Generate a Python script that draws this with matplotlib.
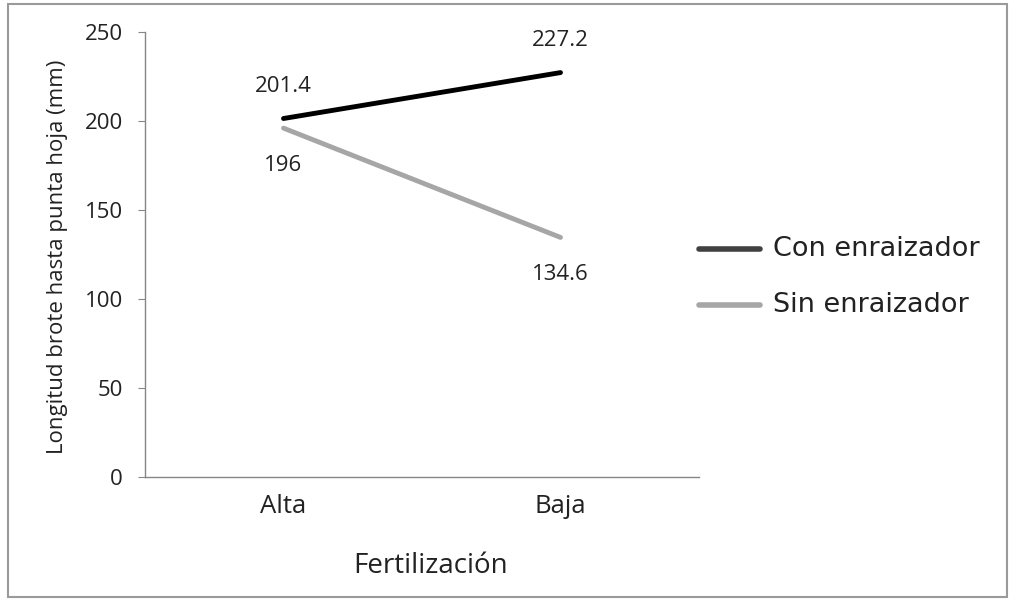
import matplotlib
matplotlib.use("Agg")
import matplotlib.pyplot as plt
from matplotlib.patches import Rectangle

categories = ["Alta", "Baja"]
con_enraizador = [201.4, 227.2]
sin_enraizador = [196, 134.6]
y_ticks = [0, 50, 100, 150, 200, 250]

plt.rcParams['font.family'] = ['Open Sans', 'DejaVu Sans']

W, H = 1010, 600
fig = plt.figure(figsize=(W/100, H/100), dpi=100)
ax = fig.add_axes([145/W, (H-477)/H, 554/W, 445/H])

x = list(range(len(categories)))
ax.plot(x, con_enraizador, color='black', lw=3.5, solid_capstyle='round')
ax.plot(x, sin_enraizador, color='#a6a6a6', lw=3.5, solid_capstyle='round')

# value labels
for i, v in enumerate(con_enraizador):
    ax.annotate(f"{v:g}", (i, v), xytext=(0, 32), textcoords='offset pixels',
                ha='center', va='center', fontsize=16, color='#222222')
for i, v in enumerate(sin_enraizador):
    ax.annotate(f"{v:g}", (i, v), xytext=(0, -37), textcoords='offset pixels',
                ha='center', va='center', fontsize=16, color='#222222')

ax.set_xlim(-0.5, 1.5)
ax.set_ylim(0, 250)
ax.set_yticks(y_ticks)
ax.set_xticks(x)
ax.set_xticklabels(categories)
ax.tick_params(axis='x', length=0, pad=12, labelsize=18.5, labelcolor='#222222')
ax.tick_params(axis='y', length=5, color='#868686', pad=11, labelsize=16,
               labelcolor='#222222')
for s in ['top', 'right']:
    ax.spines[s].set_visible(False)
for s in ['left', 'bottom']:
    ax.spines[s].set_color('#868686')
    ax.spines[s].set_linewidth(1)

fig.text(431/W, 1 - 566/H, "Fertilización", ha='center', va='center',
         fontsize=20, color='#222222')
fig.text(58/W, 1 - 257/H, "Longitud brote hasta punta hoja (mm)",
         rotation=90, ha='center', va='center', fontsize=16, color='#222222')

# legend drawn manually
leg_x0, leg_x1 = 699/W, 760/W
for ypix, col, lab in [(249, '#404040', 'Con enraizador'),
                       (305, '#a6a6a6', 'Sin enraizador')]:
    yf = 1 - ypix/H
    fig.add_artist(plt.Line2D([leg_x0, leg_x1], [yf, yf], color=col, lw=4,
                              solid_capstyle='round', transform=fig.transFigure))
    fig.text(773/W, yf, lab, ha='left', va='center', fontsize=19.5,
             family='DejaVu Sans', color='#222222')

fig.add_artist(Rectangle((8/W, 3/H), 999/W, 593/H, fill=False,
                         edgecolor='#9a9a9a', lw=1.5, transform=fig.transFigure))

fig.savefig("out.png", dpi=100)
